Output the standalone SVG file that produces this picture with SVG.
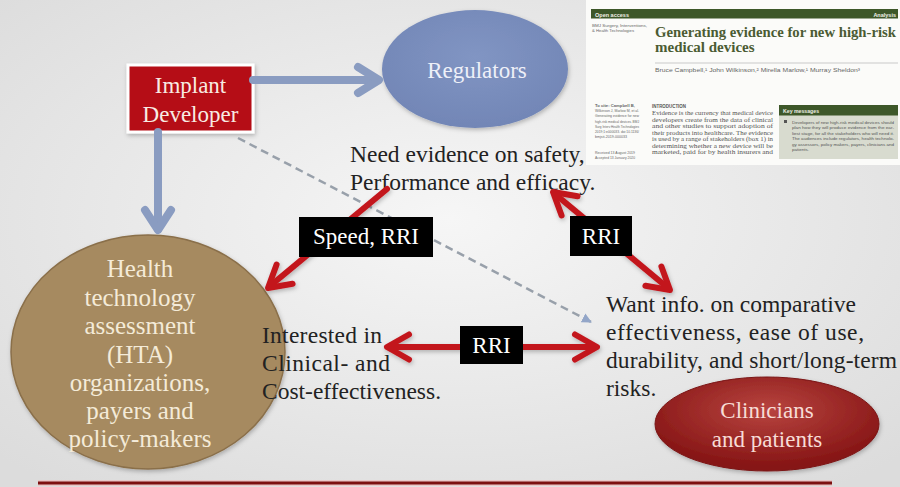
<svg xmlns="http://www.w3.org/2000/svg" width="900" height="487" viewBox="0 0 900 487" font-family="'Liberation Serif', 'Times New Roman', serif">
<defs>
<radialGradient id="bg" cx="50%" cy="45%" r="70%">
<stop offset="0" stop-color="#f6f6f6"/>
<stop offset="1" stop-color="#dcdcdc"/>
</radialGradient>
<radialGradient id="clin" cx="50%" cy="35%" r="60%">
<stop offset="0" stop-color="#b8443f"/>
<stop offset="1" stop-color="#861515"/>
</radialGradient>
<radialGradient id="reg" cx="50%" cy="40%" r="60%">
<stop offset="0" stop-color="#8195c3"/>
<stop offset="1" stop-color="#7286b6"/>
</radialGradient>
<filter id="sh" x="-20%" y="-20%" width="140%" height="140%">
<feDropShadow dx="1" dy="2" stdDeviation="2" flood-color="#000" flood-opacity="0.25"/>
</filter>
<marker id="dashHead" viewBox="0 0 10 10" refX="9" refY="5" markerWidth="4" markerHeight="4" orient="auto">
<path d="M0,0 L10,5 L0,10 z" fill="#93a6c8"/>
</marker>
<style>
.body{font-size:23.5px;fill:#222}
.lbl{font-size:23px;fill:#fff;text-anchor:middle}
.red{fill:none;stroke:#c3161d;stroke-width:6;stroke-linecap:round;stroke-linejoin:round}
.blue{fill:none;stroke:#8a9cc1;stroke-width:8;stroke-linecap:round;stroke-linejoin:round}
.tiny{fill:#666}
.art{fill:#555;font-size:6.2px}
</style>
</defs>

<rect width="900" height="487" fill="url(#bg)"/>

<!-- article screenshot -->
<g id="article">
<rect x="586" y="0" width="314" height="165" fill="#fbfbf9"/>
<rect x="591" y="9" width="307" height="9.5" fill="#3d5729"/>
<g font-family="'Liberation Sans', Arial, sans-serif">
<text x="595" y="16.5" font-size="5.5" font-weight="bold" fill="#f0f0e8">Open access</text>
<text x="896" y="16.5" font-size="5.5" font-weight="bold" fill="#f0f0e8" text-anchor="end">Analysis</text>
<text x="592" y="27" class="tiny" font-size="3.6" textLength="55" lengthAdjust="spacingAndGlyphs">BMJ Surgery, Interventions,</text>
<text x="592" y="32" class="tiny" font-size="3.6" textLength="42" lengthAdjust="spacingAndGlyphs">&amp; Health Technologies</text>
<text x="655" y="72" class="tiny" font-size="5.5" textLength="205" lengthAdjust="spacingAndGlyphs">Bruce Campbell,¹ John Wilkinson,² Mirella Marlow,¹ Murray Sheldon³</text>
<g class="tiny" font-size="4">
<text x="595" y="107" font-weight="bold" textLength="40" lengthAdjust="spacingAndGlyphs">To cite: Campbell B,</text>
<text x="595" y="112" textLength="44" lengthAdjust="spacingAndGlyphs">Wilkinson J, Marlow M, et al.</text>
<text x="595" y="117" textLength="44" lengthAdjust="spacingAndGlyphs">Generating evidence for new</text>
<text x="595" y="122.5" textLength="44" lengthAdjust="spacingAndGlyphs">high-risk medical devices. BMJ</text>
<text x="595" y="127.5" textLength="44" lengthAdjust="spacingAndGlyphs">Surg Interv Health Technologies</text>
<text x="595" y="132.5" textLength="44" lengthAdjust="spacingAndGlyphs">2019;1:e000033. doi:10.1136/</text>
<text x="595" y="137.5" textLength="32" lengthAdjust="spacingAndGlyphs">bmjsit-2019-000033</text>
<text x="595" y="153.5" textLength="40" lengthAdjust="spacingAndGlyphs">Received 13 August 2019</text>
<text x="595" y="158.5" textLength="40" lengthAdjust="spacingAndGlyphs">Accepted 13 January 2020</text>
</g>
<text x="652" y="108" font-size="4.5" font-weight="bold" fill="#555" textLength="34" lengthAdjust="spacingAndGlyphs">INTRODUCTION</text>
<text x="783" y="112.5" font-size="5.2" font-weight="bold" fill="#eef0e6">Key messages</text>
</g>
<text x="655" y="37" font-size="15" font-weight="bold" fill="#4b5b33" textLength="241" lengthAdjust="spacingAndGlyphs">Generating evidence for new high-risk</text>
<text x="655" y="52" font-size="15" font-weight="bold" fill="#4b5b33">medical devices</text>
<line x1="655" y1="63" x2="898" y2="63" stroke="#aaa" stroke-width="0.6"/>
<g class="art">
<text x="652" y="115" textLength="121" lengthAdjust="spacingAndGlyphs">Evidence is the currency that medical device</text>
<text x="652" y="121.5" textLength="121" lengthAdjust="spacingAndGlyphs">developers create from the data of clinical</text>
<text x="652" y="128" textLength="121" lengthAdjust="spacingAndGlyphs">and other studies to support adoption of</text>
<text x="652" y="134.5" textLength="121" lengthAdjust="spacingAndGlyphs">their products into healthcare. The evidence</text>
<text x="652" y="141" textLength="121" lengthAdjust="spacingAndGlyphs">is used by a range of stakeholders (box 1) in</text>
<text x="652" y="147.5" textLength="121" lengthAdjust="spacingAndGlyphs">determining whether a new device will be</text>
<text x="652" y="154" textLength="121" lengthAdjust="spacingAndGlyphs">marketed, paid for by health insurers and</text>
</g>
<rect x="779" y="105" width="119" height="54" fill="#d8dbcf"/>
<rect x="779" y="105" width="119" height="10.5" fill="#3d5729"/>
<text x="783" y="112.5" font-family="'Liberation Sans', Arial, sans-serif" font-size="5.2" font-weight="bold" fill="#eef0e6">Key messages</text>
<rect x="784" y="120" width="3" height="3" fill="#555"/>
<g font-family="'Liberation Sans', Arial, sans-serif" font-size="4.3" fill="#555">
<text x="792" y="123.5" textLength="102" lengthAdjust="spacingAndGlyphs">Developers of new high-risk medical devices should</text>
<text x="792" y="129" textLength="102" lengthAdjust="spacingAndGlyphs">plan how they will produce evidence from the ear-</text>
<text x="792" y="134.5" textLength="102" lengthAdjust="spacingAndGlyphs">liest stage, for all the stakeholders who will need it.</text>
<text x="792" y="140" textLength="102" lengthAdjust="spacingAndGlyphs">The audiences include regulators, health technolo-</text>
<text x="792" y="145.5" textLength="102" lengthAdjust="spacingAndGlyphs">gy assessors, policy makers, payers, clinicians and</text>
<text x="792" y="151" textLength="17" lengthAdjust="spacingAndGlyphs">patients.</text>
</g>
</g>

<!-- nodes -->
<g id="hta">
<ellipse cx="148" cy="352" rx="137" ry="117" fill="#a68a60" stroke="#8a6f4a" stroke-width="1.5" filter="url(#sh)"/>
<g font-size="25" fill="#f4ebd8" text-anchor="middle">
<text x="140" y="277">Health</text>
<text x="140" y="306">technology</text>
<text x="140" y="334">assessment</text>
<text x="140" y="363">(HTA)</text>
<text x="140" y="391">organizations,</text>
<text x="140" y="419">payers and</text>
<text x="140" y="447">policy-makers</text>
</g>
</g>

<g id="regulators">
<ellipse cx="475" cy="69" rx="93" ry="59" fill="url(#reg)" filter="url(#sh)"/>
<text x="477" y="78" font-size="23" fill="#eef0f8" text-anchor="middle">Regulators</text>
</g>

<g id="clinicians">
<ellipse cx="767" cy="424" rx="112" ry="47" fill="url(#clin)" stroke="#7a1313" stroke-width="1" filter="url(#sh)"/>
<text x="767" y="418" font-size="23" fill="#f7dcd6" text-anchor="middle">Clinicians</text>
<text x="767" y="447" font-size="23" fill="#f7dcd6" text-anchor="middle">and patients</text>
</g>

<g id="implant">
<rect x="128" y="65" width="125" height="67" fill="#b50d14" stroke="#ffffff" stroke-width="3" filter="url(#sh)"/>
<text x="190.5" y="93" font-size="23" fill="#f8ebe3" text-anchor="middle">Implant</text>
<text x="190.5" y="122" font-size="23" fill="#f8ebe3" text-anchor="middle">Developer</text>
</g>

<!-- text blocks -->
<g id="regulators-needs" class="body" font-size="23">
<text x="350" y="162">Need evidence on safety,</text>
<text x="350" y="190">Performance and efficacy.</text>
</g>
<g id="hta-needs" class="body">
<text x="262" y="343" textLength="120" lengthAdjust="spacing">Interested in</text>
<text x="262" y="371" textLength="128" lengthAdjust="spacing">Clinical- and</text>
<text x="262" y="399">Cost-effectiveness.</text>
</g>
<g id="clinician-needs" class="body" font-size="24">
<text x="606" y="312">Want info. on comparative</text>
<text x="606" y="340" textLength="258" lengthAdjust="spacing">effectiveness, ease of use,</text>
<text x="606" y="368" textLength="291" lengthAdjust="spacing">durability, and short/long-term</text>
<text x="606" y="396">risks.</text>
</g>

<!-- connectors -->
<g id="connectors">
<line x1="238" y1="138" x2="591" y2="322" stroke="#98a0aa" stroke-width="2.5" stroke-dasharray="8,5" marker-end="url(#dashHead)"/>
<line x1="253" y1="80" x2="377" y2="80" class="blue"/>
<polyline points="358,67 379,80 358,93" class="blue"/>
<line x1="158" y1="132" x2="158" y2="229" class="blue"/>
<polyline points="145,210 158,230 171,210" class="blue"/>
<g filter="url(#sh)">
<line x1="387" y1="189" x2="270" y2="286" class="red"/>
<polyline points="292.6,283.7 268,288 276.6,264.5" class="red"/>
<line x1="555" y1="194" x2="668" y2="288" class="red"/>
<polyline points="577.6,196.3 553,192 561.6,215.5" class="red"/>
<polyline points="645.4,285.7 670,290 661.4,266.5" class="red"/>
<line x1="389" y1="347" x2="595" y2="347" class="red"/>
<polyline points="409,334.5 387,347 409,359.5" class="red"/>
<polyline points="575,334.5 597,347 575,359.5" class="red"/>
</g>
</g>

<!-- labels -->
<g id="labels">
<rect x="299" y="217" width="134" height="40" fill="#000"/>
<text x="366" y="244" class="lbl">Speed, RRI</text>
<rect x="570" y="216" width="62" height="40" fill="#000"/>
<text x="601" y="243.5" class="lbl">RRI</text>
<rect x="460" y="326" width="63" height="38" fill="#000"/>
<text x="491.5" y="352.5" class="lbl">RRI</text>
</g>

<line x1="38" y1="483" x2="832" y2="483" stroke="#f0b8b8" stroke-width="6" opacity="0.6"/>
<line x1="38" y1="483" x2="832" y2="483" stroke="#7d1010" stroke-width="3"/>
</svg>
